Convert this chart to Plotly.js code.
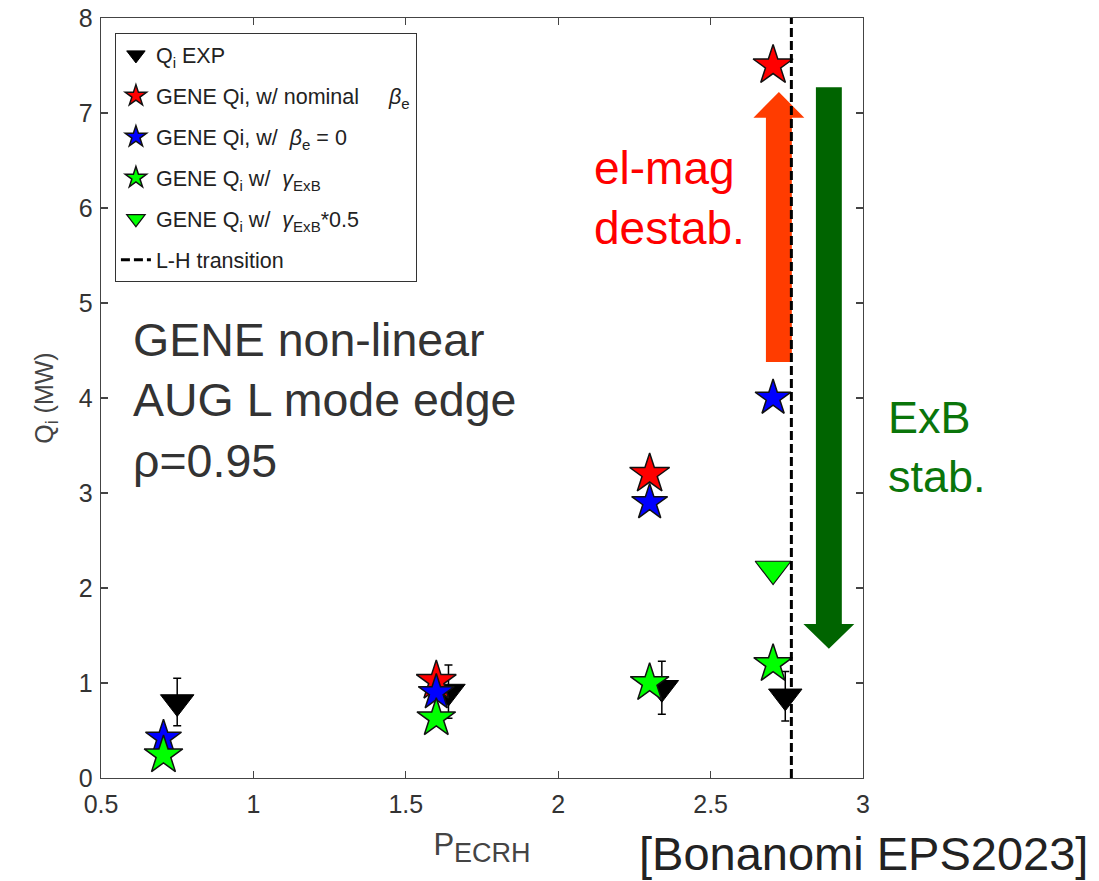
<!DOCTYPE html>
<html>
<head>
<meta charset="utf-8">
<script src="https://cdn.plot.ly/plotly-3.0.1.min.js"></script>
<style>html,body{margin:0;padding:0;background:#fff;}#chart{width:1099px;height:881px;}</style>
</head>
<body>
<div id="chart"></div>
<script>
// ---- data ----
const expX      = [0.75, 1.64, 2.34, 2.745];
const expY      = [0.80, 0.91, 0.95, 0.86];
const expErr    = [0.25, 0.28, 0.28, 0.26];

const nominalX  = [1.60, 2.30, 2.705];
const nominalY  = [1.02, 3.20, 7.50];

const beta0X    = [0.705, 1.60, 2.30, 2.705];
const beta0Y    = [0.42, 0.90, 2.90, 4.00];

const exbX      = [0.705, 1.60, 2.30, 2.705];
const exbY      = [0.24, 0.63, 1.00, 1.20];

const exbHalfX  = [2.705];
const exbHalfY  = [2.20];

const lhX       = [2.765, 2.765];
const lhY       = [0, 8];

const xTicks    = [0.5, 1, 1.5, 2, 2.5, 3];
const yTicks    = [0, 1, 2, 3, 4, 5, 6, 7, 8];

const FONT = "Liberation Sans, Arial, Helvetica, sans-serif";
const starLine = {color: "#111", width: 1.5};

const traces = [
  {
    x: expX, y: expY, type: "scatter", mode: "markers",
    name: "Q<sub>i</sub> EXP", legendgroup: "a",
    marker: {symbol: "triangle-down", size: 29, color: "#000", line: {color: "#000", width: 1}},
    error_y: {type: "data", array: expErr, visible: true, color: "#000", thickness: 1.5, width: 4}
  },
  {
    x: nominalX, y: nominalY, type: "scatter", mode: "markers",
    name: "GENE Qi, w/ nominal\u00a0\u00a0\u00a0\u00a0\u00a0<i>β</i><sub>e</sub>", legendgroup: "b",
    marker: {symbol: "star", size: 30, color: "#ff0000", line: starLine}
  },
  {
    x: beta0X, y: beta0Y, type: "scatter", mode: "markers",
    name: "GENE Qi, w/\u00a0\u00a0<i>β</i><sub>e</sub> = 0", legendgroup: "c",
    marker: {symbol: "star", size: 27, color: "#0000ff", line: starLine}
  },
  {
    x: exbX, y: exbY, type: "scatter", mode: "markers",
    name: "GENE Q<sub>i</sub> w/\u00a0\u00a0<i>γ</i><sub>ExB</sub>", legendgroup: "d",
    marker: {symbol: "star", size: 29, color: "#00ff00", line: starLine}
  },
  {
    x: exbHalfX, y: exbHalfY, type: "scatter", mode: "markers",
    name: "GENE Q<sub>i</sub> w/\u00a0\u00a0<i>γ</i><sub>ExB</sub>*0.5", legendgroup: "e",
    marker: {symbol: "triangle-down", size: 31, color: "#00ff00", line: {color: "#111", width: 1.2}}
  },
  {
    x: lhX, y: lhY, type: "scatter", mode: "lines",
    name: "L-H transition", legendgroup: "f",
    line: {color: "#000", width: 3, dash: "9px,4px"}
  }
];

function arrowUp(xc, shaftHalf, headHalf, y0, yBase, yTip) {
  return `M ${xc - shaftHalf},${y0} L ${xc - shaftHalf},${yBase} L ${xc - headHalf},${yBase} L ${xc},${yTip} L ${xc + headHalf},${yBase} L ${xc + shaftHalf},${yBase} L ${xc + shaftHalf},${y0} Z`;
}

const layout = {
  width: 1099, height: 881,
  margin: {l: 101, r: 236, t: 18, b: 103},
  paper_bgcolor: "#fff", plot_bgcolor: "#fff",
  font: {family: FONT, color: "#333", size: 22},
  showlegend: true,
  legend: {
    x: 0.018, y: 0.98, xanchor: "left", yanchor: "top",
    bgcolor: "#fff", bordercolor: "#333", borderwidth: 1.2,
    font: {family: FONT, size: 21.5, color: "#222"},
    traceorder: "grouped", tracegroupgap: 10,
    itemwidth: 30
  },
  xaxis: {
    range: [0.5, 3], tickvals: xTicks, ticktext: xTicks.map(String),
    ticks: "inside", ticklen: 7, tickcolor: "#444", tickwidth: 1.3,
    showline: true, linecolor: "#444", linewidth: 1.3, mirror: "ticks",
    showgrid: false, zeroline: false,
    ticklabelstandoff: 4,
    tickfont: {family: FONT, size: 25, color: "#333"},
    title: {text: "P<sub><span style='font-size:27px'>ECRH</span></sub>", font: {family: FONT, size: 31, color: "#444"}, standoff: 16}
  },
  yaxis: {
    range: [0, 8], tickvals: yTicks, ticktext: yTicks.map(String),
    ticks: "inside", ticklen: 7, tickcolor: "#444", tickwidth: 1.3,
    showline: true, linecolor: "#444", linewidth: 1.3, mirror: "ticks",
    showgrid: false, zeroline: false,
    ticklabelstandoff: 2,
    tickfont: {family: FONT, size: 25, color: "#333"},
    title: {text: "Q<sub>i</sub> (MW)", font: {family: FONT, size: 25, color: "#444"}, standoff: 18}
  },
  shapes: [
    {type: "path", xref: "x", yref: "y", layer: "below",
     path: arrowUp(2.724, 0.0425, 0.0835, 4.38, 6.95, 7.22),
     fillcolor: "#ff3c00", line: {width: 0}},
    {type: "path", xref: "x", yref: "y", layer: "below",
     path: arrowUp(2.888, 0.0425, 0.0835, 7.27, 1.62, 1.36),
     fillcolor: "#006400", line: {width: 0}}
  ],
  annotations: [
    {xref: "paper", yref: "paper", x: 0.040, y: 0.497, xanchor: "left", yanchor: "middle", align: "left",
     showarrow: false, text: "GENE non-linear<br>AUG L mode edge<br>ρ=0.95",
     font: {family: FONT, size: 46.5, color: "#333"}},
    {xref: "paper", yref: "paper", x: 0.746, y: 0.763, xanchor: "center", yanchor: "middle", align: "left",
     showarrow: false, text: "el-mag<br>destab.",
     font: {family: FONT, size: 46, color: "#ff0000"}},
    {xref: "paper", yref: "paper", x: 1.030, y: 0.436, xanchor: "left", yanchor: "middle", align: "left",
     showarrow: false, text: "ExB<br>stab.",
     font: {family: FONT, size: 45, color: "#0a750a"}},
    {xref: "paper", yref: "paper", x: 1.0, y: -0.099, xanchor: "center", yanchor: "middle",
     showarrow: false, text: "[Bonanomi EPS2023]",
     font: {family: FONT, size: 47, color: "#222"}}
  ]
};

Plotly.newPlot("chart", traces, layout, {displayModeBar: false, staticPlot: true});
</script>
</body>
</html>
